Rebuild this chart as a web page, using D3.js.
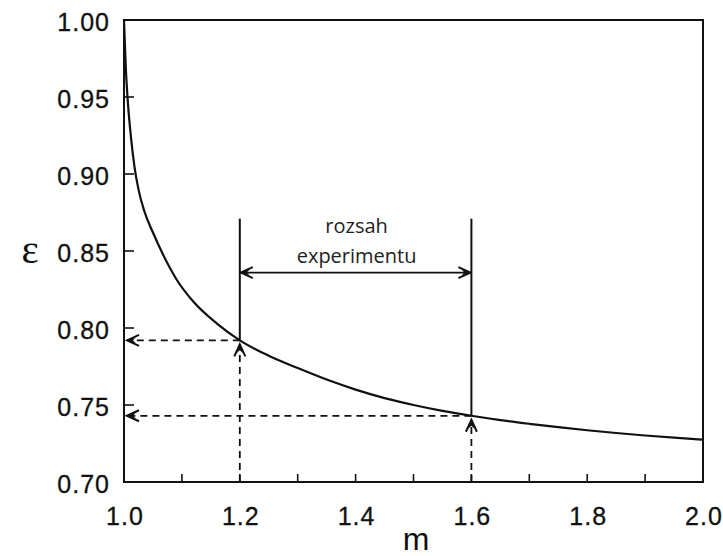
<!DOCTYPE html>
<html>
<head>
<meta charset="utf-8">
<script src="https://cdn.jsdelivr.net/npm/d3@7"></script>
<style>
  body { margin: 0; background: #fff; }
  svg { display: block; }
</style>
</head>
<body>
<svg id="chart" width="723" height="556"></svg>
<script>
// curve
const mValues = [1.000, 1.003, 1.007, 1.012, 1.018, 1.025, 1.035, 1.050, 1.067, 1.090, 1.120, 1.160,
  1.200, 1.250, 1.300, 1.350, 1.400, 1.450, 1.500, 1.550, 1.600, 1.650, 1.700, 1.750, 1.800,
  1.850, 1.900, 1.950, 2.000]
const epsValues = [1.000, 0.970, 0.945, 0.924, 0.905, 0.890, 0.876, 0.862, 0.848, 0.832, 0.817, 0.803,
  0.792, 0.782, 0.774, 0.7665, 0.760, 0.7545, 0.750, 0.7462, 0.743, 0.7402, 0.7378, 0.7356, 0.7336,
  0.7318, 0.7302, 0.7288, 0.7275]

const xTicks = [1.1, 1.2, 1.3, 1.4, 1.5, 1.6, 1.7, 1.8, 1.9]
const xLabels = [1.0, 1.2, 1.4, 1.6, 1.8, 2.0]
const yTicks = [0.70, 0.75, 0.80, 0.85, 0.90, 0.95, 1.00]

// experiment range and the read-off points
const rangeM = [1.2, 1.6]
const rangeEps = [0.792, 0.743]
const rangeTop = 0.871
const rangeArrowEps = 0.836
const rangeText = ["rozsah", "experimentu"]

const width = 723, height = 556
const margin = {top: 20, right: 20, bottom: 74, left: 124}

const svg = d3.select("#chart")

const x = d3.scaleLinear().domain([1.0, 2.0]).range([margin.left, width - margin.right])
const y = d3.scaleLinear().domain([0.70, 1.00]).range([height - margin.bottom, margin.top])

const ink = "#111"

// arrowheads (one for ends, one reversed for starts)
const defs = svg.append("defs")
function addHead(id, orient) {
    const mk = defs.append("marker")
        .attr("id", id)
        .attr("viewBox", "-16 -8 18 16")
        .attr("refX", 0).attr("refY", 0)
        .attr("markerUnits", "userSpaceOnUse")
        .attr("markerWidth", 18).attr("markerHeight", 16)
        .attr("orient", orient)
    mk.append("path")
        .attr("d", "M-12,-5.5 L0,0 L-12,5.5")
        .attr("fill", "none").attr("stroke", ink).attr("stroke-width", 2)
    mk.append("path")
        .attr("d", "M0,0 L-9,-3.2 L-6,0 L-9,3.2 Z")
        .attr("fill", ink)
}
addHead("head", "auto")
addHead("headStart", "auto-start-reverse")

// ticks (inward)
svg.append("g").selectAll("line")
    .data(xTicks)
    .join("line")
    .attr("x1", d => x(d)).attr("x2", d => x(d))
    .attr("y1", y(0.70)).attr("y2", y(0.70) - 8)
    .attr("stroke", ink).attr("stroke-width", 1.6)

svg.append("g").selectAll("line")
    .data(yTicks)
    .join("line")
    .attr("x1", x(1.0)).attr("x2", x(1.0) + 10)
    .attr("y1", d => y(d)).attr("y2", d => y(d))
    .attr("stroke", ink).attr("stroke-width", 1.6)

// tick labels
svg.append("g").selectAll("text")
    .data(xLabels)
    .join("text")
    .attr("x", d => x(d) + 1)
    .attr("y", 525)
    .attr("text-anchor", "middle")
    .style("font-family", "'Liberation Sans', Arial, sans-serif")
    .style("font-size", "25px")
    .style("letter-spacing", "1px")
    .attr("fill", ink)
    .attr("stroke", ink).attr("stroke-width", 0.3)
    .text(d => d.toFixed(1))

svg.append("g").selectAll("text")
    .data(yTicks)
    .join("text")
    .attr("x", x(1.0) - 14)
    .attr("y", d => y(d) + 11)
    .attr("text-anchor", "end")
    .style("font-family", "'Liberation Sans', Arial, sans-serif")
    .style("font-size", "25px")
    .style("letter-spacing", "1px")
    .attr("fill", ink)
    .attr("stroke", ink).attr("stroke-width", 0.3)
    .text(d => d.toFixed(2))

// axis titles
svg.append("text")
    .attr("x", 30).attr("y", 263)
    .attr("text-anchor", "middle")
    .style("font-family", "'Liberation Serif', 'Times New Roman', serif")
    .style("font-size", "41px")
    .attr("fill", ink)
    .text("ε")

svg.append("text")
    .attr("x", 416).attr("y", 550)
    .attr("text-anchor", "middle")
    .style("font-family", "'Liberation Sans', Arial, sans-serif")
    .style("font-size", "32px")
    .attr("fill", ink)
    .text("m")

// curve
const pts = mValues.map((m, i) => [m, epsValues[i]])
const line = d3.line()
    .x(d => x(d[0])).y(d => y(d[1]))
    .curve(d3.curveMonotoneX)

svg.append("path")
    .datum(pts)
    .attr("d", line)
    .attr("fill", "none")
    .attr("stroke", ink)
    .attr("stroke-width", 2.2)

// dashed read-off lines and solid range boundaries
const dash = "7,5"
rangeM.forEach((m, i) => {
    const e = rangeEps[i]
    svg.append("line")
        .attr("x1", x(m)).attr("y1", y(e))
        .attr("x2", x(1.0) + 3).attr("y2", y(e))
        .attr("stroke", ink).attr("stroke-width", 1.8)
        .attr("stroke-dasharray", dash)
        .attr("marker-end", "url(#head)")
    svg.append("line")
        .attr("x1", x(m)).attr("y1", y(0.70))
        .attr("x2", x(m)).attr("y2", y(e) + 4)
        .attr("stroke", ink).attr("stroke-width", 1.8)
        .attr("stroke-dasharray", dash)
        .attr("marker-end", "url(#head)")
    svg.append("line")
        .attr("x1", x(m)).attr("y1", y(rangeTop))
        .attr("x2", x(m)).attr("y2", y(e))
        .attr("stroke", ink).attr("stroke-width", 2)
})

// double arrow between the boundaries
svg.append("line")
    .attr("x1", x(rangeM[0]) + 1).attr("y1", y(rangeArrowEps))
    .attr("x2", x(rangeM[1]) - 1).attr("y2", y(rangeArrowEps))
    .attr("stroke", ink).attr("stroke-width", 1.8)
    .attr("marker-start", "url(#headStart)")
    .attr("marker-end", "url(#head)")

svg.append("g").selectAll("text")
    .data(rangeText)
    .join("text")
    .attr("x", (x(rangeM[0]) + x(rangeM[1])) / 2 + 1)
    .attr("y", (d, i) => 233 + i * 30)
    .attr("text-anchor", "middle")
    .style("font-family", "'Open Sans', sans-serif")
    .style("font-size", "20px")
    .attr("fill", "#222")
    .text(d => d)

// frame
svg.append("rect")
    .attr("x", x(1.0)).attr("y", y(1.0))
    .attr("width", x(2.0) - x(1.0)).attr("height", y(0.70) - y(1.0))
    .attr("fill", "none")
    .attr("stroke", ink).attr("stroke-width", 2)
</script>
</body>
</html>
